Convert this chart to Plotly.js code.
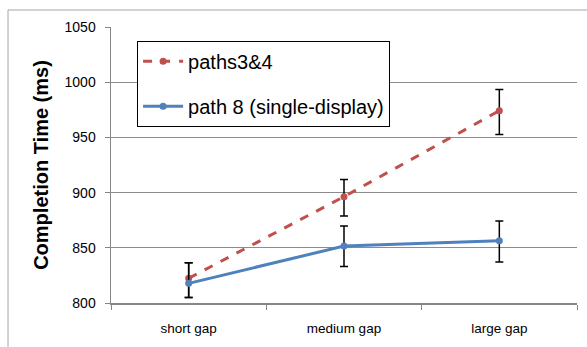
<!DOCTYPE html>
<html>
<head>
<meta charset="utf-8">
<script src="https://cdn.plot.ly/plotly-3.0.1.min.js"></script>
<style>html,body{margin:0;padding:0;background:#fff;}#chart{width:587px;height:347px;}</style>
</head>
<body>
<div id="chart"></div>
<script>
const categories = ["short gap", "medium gap", "large gap"];
const paths34 = [822.4, 896.3, 974.2];
const paths34ErrPlus = [14.1, 15.5, 19.2];
const paths34ErrMinus = [17.4, 17.5, 21.6];
const path8 = [817.8, 851.6, 856.4];
const path8ErrPlus = [18.7, 18.1, 17.8];
const path8ErrMinus = [12.8, 18.6, 19.3];
const seriesNames = ["paths3&4", "path 8 (single-display)"];
const yTicks = [800, 850, 900, 950, 1000, 1050];

const FONT = "Liberation Sans, Arial, sans-serif";

const traces = [
  {
    x: categories, y: paths34, name: seriesNames[0], type: "scatter", mode: "lines+markers",
    legendgroup: "a",
    line: {color: "#C0504D", width: 3, dash: "dash"},
    marker: {color: "#C0504D", size: 7, symbol: "circle"},
    error_y: {type: "data", symmetric: false, array: paths34ErrPlus, arrayminus: paths34ErrMinus,
      color: "#000", thickness: 1.5, width: 4}
  },
  {
    x: categories, y: path8, name: seriesNames[1], type: "scatter", mode: "lines+markers",
    legendgroup: "b",
    line: {color: "#4F81BD", width: 3},
    marker: {color: "#4F81BD", size: 7, symbol: "circle"},
    error_y: {type: "data", symmetric: false, array: path8ErrPlus, arrayminus: path8ErrMinus,
      color: "#000", thickness: 1.5, width: 4}
  }
];

const layout = {
  width: 587, height: 347,
  margin: {l: 111, r: 10, t: 27, b: 44, pad: 0},
  paper_bgcolor: "#fff", plot_bgcolor: "#fff",
  font: {family: FONT, color: "#000"},
  showlegend: true,
  legend: {
    x: 0.056, y: 0.95, xanchor: "left", yanchor: "top",
    bgcolor: "#fff", bordercolor: "#000", borderwidth: 1,
    font: {family: FONT, size: 20, color: "#000"},
    traceorder: "grouped", tracegroupgap: 16,
    itemwidth: 40
  },
  xaxis: {
    type: "category",
    range: [-0.5, 2.5],
    tickson: "boundaries",
    ticks: "outside", ticklen: 5, tickcolor: "#868686", tickwidth: 1,
    showline: true, linecolor: "#868686", linewidth: 2,
    showgrid: false, zeroline: false,
    tickfont: {family: FONT, size: 13.5, color: "#000"},
    ticklabelstandoff: 12,
    fixedrange: true
  },
  yaxis: {
    range: [800, 1050],
    tickvals: yTicks,
    ticktext: yTicks.map(String),
    ticks: "outside", ticklen: 5, tickcolor: "#868686", tickwidth: 1,
    showline: true, linecolor: "#868686", linewidth: 1.5,
    showgrid: true, gridcolor: "#8c8c8c", gridwidth: 1,
    zeroline: false,
    tickfont: {family: FONT, size: 14, color: "#000"},
    ticklabelstandoff: 6,
    title: {text: "<b>Completion Time (ms)</b>", font: {family: FONT, size: 20, color: "#000"}, standoff: 10},
    fixedrange: true
  },
  shapes: [
    {type: "rect", xref: "paper", yref: "paper", x0: -0.221, x1: 1.2, y0: -0.3, y1: 1.0616,
     line: {color: "#a6a6a6", width: 1}, fillcolor: "rgba(0,0,0,0)", layer: "below"}
  ]
};

Plotly.newPlot("chart", traces, layout, {displayModeBar: false, staticPlot: true});
</script>
</body>
</html>
